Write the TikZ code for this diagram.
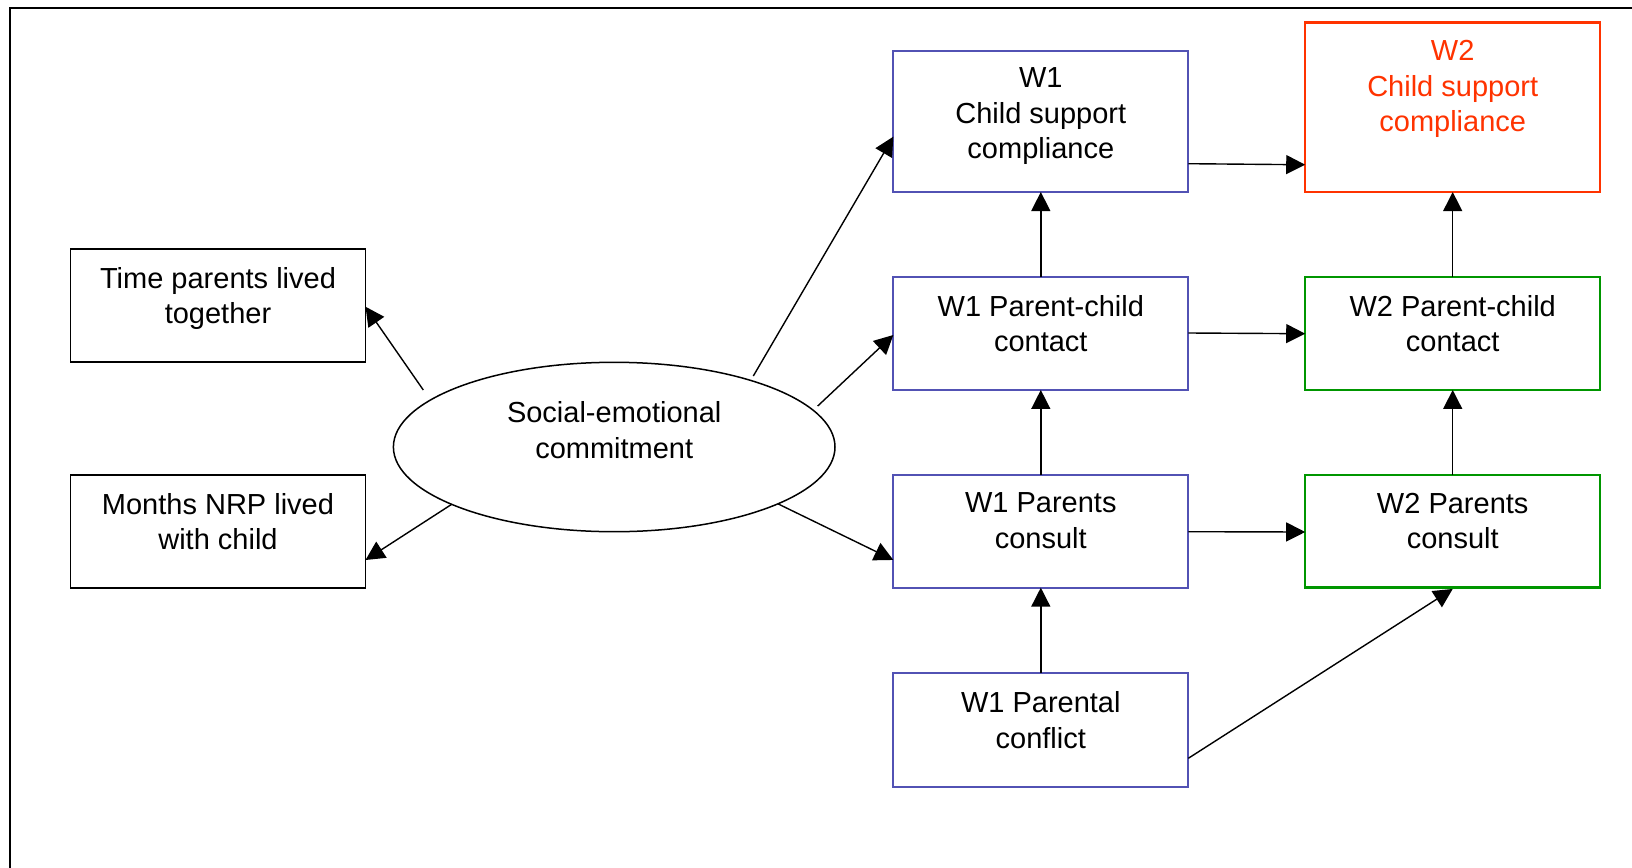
\documentclass[tikz,border=0pt]{standalone}
\usepackage{fontspec}
\setmainfont{Liberation Sans}
\usetikzlibrary{arrows.meta,calc}
\definecolor{boxblue}{RGB}{82,82,180}
\definecolor{boxgreen}{RGB}{0,150,0}
\definecolor{boxred}{RGB}{255,51,0}
\begin{document}
\begin{tikzpicture}[x=1pt,y=-1pt,
  every node/.style={inner sep=0pt,outer sep=0pt},
  boxshape/.style={draw,rectangle,minimum width=295pt,line width=2.2pt},
  blackbox/.style={boxshape,draw=black,line width=1.6pt},
  bluebox/.style={boxshape,draw=boxblue},
  greenbox/.style={boxshape,draw=boxgreen},
  redbox/.style={boxshape,draw=boxred},
  lbl/.style={anchor=north,align=center,font=\fontsize{29}{35.3}\selectfont},
  arr/.style={line width=1.4pt,-{Triangle[length=19pt,width=19pt]}},
  frameline/.style={line width=1.8pt}
]
\useasboundingbox (0,0) rectangle (1632,867);
\fill[white] (0,0) rectangle (1632,867);
% frame
\coordinate (fTL) at (10,8);
\coordinate (fTR) at (1640,8);
\coordinate (fBL) at (10,875);
\draw[frameline] (fBL) -- (fTL) -- (fTR);

% left boxes
\node[blackbox,minimum height=113pt] (time) at (218,305.5) {};
\node[lbl] (timet) at (218,267) {Time parents lived\\together};
\node[blackbox,minimum height=113pt] (months) at (218,531.5) {};
\node[lbl] (monthst) at (218,493) {Months NRP lived\\with child};

% ellipse
\draw[line width=1.5pt] (614.2,447) ellipse [x radius=220.8pt, y radius=84.7pt];
\node[minimum width=441.6pt,minimum height=169.4pt] (ell) at (614.2,447) {};
\node[lbl] (ellt) at (614.2,401.7) {Social-emotional\\commitment};

% W1 column
\node[bluebox,minimum height=141pt] (w1csc) at (1040.8,121.5) {};
\node[lbl] (w1csct) at (1040.8,68) {W1\\Child support\\compliance};
\node[bluebox,minimum height=113.3pt] (w1pcc) at (1040.8,333.3) {};
\node[lbl] (w1pcct) at (1040.8,295) {W1 Parent-child\\contact};
\node[bluebox,minimum height=112.7pt] (w1pc) at (1040.8,531.3) {};
\node[lbl] (w1pct) at (1040.8,493) {W1 Parents\\consult};
\node[bluebox,minimum height=114pt] (w1conf) at (1040.8,729.7) {};
\node[lbl] (w1conft) at (1040.8,691.7) {W1 Parental\\conflict};

% W2 column
\node[redbox,minimum height=169.5pt] (w2csc) at (1452.7,107.3) {};
\node[lbl,text=boxred] (w2csct) at (1452.7,40.7) {W2\\Child support\\compliance};
\node[greenbox,minimum height=113.3pt] (w2pcc) at (1452.7,333.3) {};
\node[lbl] (w2pcct) at (1452.7,295) {W2 Parent-child\\contact};
\node[greenbox,minimum height=112.5pt] (w2pc) at (1452.7,531.2) {};
\node[lbl] (w2pct) at (1452.7,493.3) {W2 Parents\\consult};

% connection points just off the ellipse
\coordinate (eTime) at (423.3,390);
\coordinate (eMonths) at (451.7,504.3);
\coordinate (eCsc) at (753.3,376);
\coordinate (ePcc) at (817.7,406);
\coordinate (ePc) at (778.3,504);

% arrows from ellipse
\draw[arr] (eTime) -- ([yshift=-1.2pt]time.east);
\draw[arr] (eMonths) -- ([yshift=28pt]months.south east);
\draw[arr] (eCsc) -- ([yshift=-15.2pt]w1csc.west);
\draw[arr] (ePcc) -- ([yshift=-1.7pt]w1pcc.west);
\draw[arr] (ePc) -- ([yshift=27.7pt]w1pc.south west);

% vertical arrows
\draw[arr] (w1pcc.north) -- (w1csc.south);
\draw[arr] (w1pc.north) -- (w1pcc.south);
\draw[arr] (w1conf.north) -- (w1pc.south);
\draw[arr] (w2pcc.north) -- (w2csc.south);
\draw[arr] (w2pc.north) -- (w2pcc.south);

% horizontal and diagonal arrows
\draw[arr] ([yshift=28.3pt]w1csc.south east) -- ([yshift=27.3pt]w2csc.south west);
\draw[arr] ([yshift=0.3pt]w1pcc.east) -- ([yshift=-0.4pt]w2pcc.west);
\draw[arr] ([yshift=-0.4pt]w1pc.east) -- ([yshift=-0.8pt]w2pc.west);
\draw[arr] ([yshift=28.4pt]w1conf.south east) -- ([yshift=-1.5pt]w2pc.south);
\end{tikzpicture}
\end{document}
